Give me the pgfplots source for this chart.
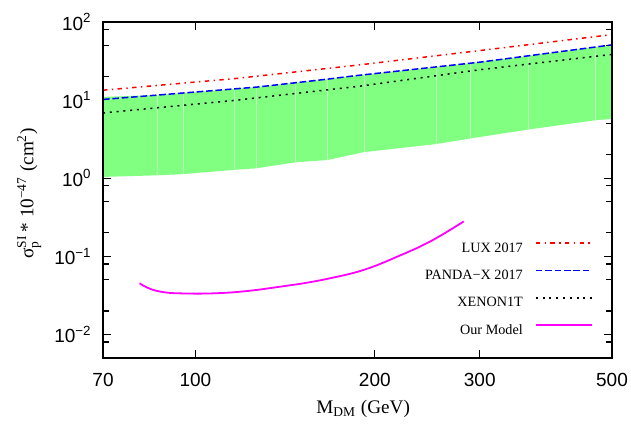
\documentclass[border=0pt]{standalone}
\usepackage{fontspec}
\setmainfont{Liberation Serif}
\setsansfont{Liberation Sans}
\usepackage{amsmath}
\usepackage{pgfplots}
\pgfplotsset{compat=1.18}
\definecolor{bandgreen}{HTML}{80FF80}
\definecolor{modelpink}{HTML}{FF00FF}

\begin{document}
\begin{tikzpicture}
\begin{axis}[
  xmode=log, ymode=log,
  scale only axis, width=254.5pt, height=168pt,
  xmin=70, xmax=500, ymin=0.005, ymax=100,
  xtick={70,100,200,300,500}, xticklabels={70,100,200,300,500},
  minor xtick={},
  ytick={0.01,0.1,1,10,100},
  yticklabels={10\textsuperscript{−2},10\textsuperscript{−1},10\textsuperscript{0},10\textsuperscript{1},10\textsuperscript{2}},
  minor ytick={0.008,0.02,0.05,0.08,0.2,0.5,0.8,2,5,8,20,50,80},
  tick align=inside, major tick length=4.2pt, minor tick length=2.8pt,
  tick style={black, line width=0.6pt},
  axis line style={line width=1pt},
  xticklabel style={font=\sffamily\fontsize{9.5}{11}\selectfont, anchor=base, inner sep=0pt, yshift=-14.3pt},
  yticklabel style={font=\sffamily\fontsize{9.5}{11}\selectfont, anchor=east, inner sep=0pt, xshift=-5.5pt},
  xlabel={M\textsubscript{DM} (GeV)},
  xlabel style={font=\fontsize{9.6}{11.5}\selectfont, at={(axis description cs:0.511,-0.164)}, anchor=base},
  ylabel={$\text{σ}_{\text{p}}^{\text{SI}}$\,* 10\textsuperscript{−47} (cm\textsuperscript{2})},
  ylabel style={font=\fontsize{9.6}{11.5}\selectfont, at={(axis description cs:-0.145,0.49)}, anchor=center},
  legend cell align=right, legend plot pos=right,
  legend style={draw=none, fill=none, at={(0.9627,0.346)}, anchor=north east,
    inner sep=0pt, row sep=7.2pt, column sep=6pt,
    font=\fontsize{7.1}{8.5}\selectfont,
    nodes={inner sep=0pt, text height=5pt, text depth=1.5pt}},
  legend image code/.code={\draw[#1] (0pt,2.8pt) -- (28pt,2.8pt);},
]
% allowed band
\addplot[fill=bandgreen, draw=none, forget plot] coordinates {
  (70,11.0) (86.2,11.6) (95.4,12.3) (116.2,13.9) (126.5,14.7) (147.1,16.7)
  (166.5,18.5) (191.8,21.1) (253.5,26.6) (289.3,29.7) (362.2,36.9) (469.6,47.9) (500,50)
  (500,5.75) (469.6,5.53) (362.2,4.21) (289.3,3.23) (253.5,2.74) (191.8,2.16)
  (166.5,1.71) (147.1,1.60) (126.5,1.34) (116.2,1.28) (95.4,1.13) (86.2,1.09) (70,1.04)
} -- cycle;
% faint seams inside the band
\addplot[white, line width=0.3pt, opacity=0.5, forget plot] coordinates {(86.2,1.09) (86.2,11.6)};
\addplot[white, line width=0.3pt, opacity=0.5, forget plot] coordinates {(95.4,1.13) (95.4,12.3)};
\addplot[white, line width=0.3pt, opacity=0.5, forget plot] coordinates {(116.2,1.28) (116.2,13.9)};
\addplot[white, line width=0.3pt, opacity=0.5, forget plot] coordinates {(126.5,1.34) (126.5,14.7)};
\addplot[white, line width=0.3pt, opacity=0.5, forget plot] coordinates {(147.1,1.60) (147.1,16.7)};
\addplot[white, line width=0.3pt, opacity=0.5, forget plot] coordinates {(166.5,1.71) (166.5,18.5)};
\addplot[white, line width=0.3pt, opacity=0.5, forget plot] coordinates {(191.8,2.16) (191.8,21.1)};
\addplot[white, line width=0.3pt, opacity=0.5, forget plot] coordinates {(253.5,2.74) (253.5,26.6)};
\addplot[white, line width=0.3pt, opacity=0.5, forget plot] coordinates {(289.3,3.23) (289.3,29.7)};
\addplot[white, line width=0.3pt, opacity=0.5, forget plot] coordinates {(362.2,4.21) (362.2,36.9)};
\addplot[white, line width=0.3pt, opacity=0.5, forget plot] coordinates {(469.6,5.53) (469.6,47.9)};

\addplot[red, line width=0.75pt, dash pattern=on 2.2pt off 2.2pt on 0.7pt off 2.2pt] coordinates {
  (70,13.4) (116,18.8) (189,28.3) (300,43.1) (500,69)};
\addlegendentry{LUX 2017}
\addplot[blue, line width=0.75pt, dash pattern=on 3.3pt off 1.4pt] coordinates {
  (70,10.2) (95,12.3) (127,14.7) (166,18.5) (185,20.5) (300,30.6) (500,51)};
\addlegendentry{PANDA−X 2017}
\addplot[black, line width=0.75pt, dash pattern=on 1pt off 2.4pt] coordinates {
  (70,6.85) (116,9.9) (189,15.1) (300,24.5) (500,38.5)};
\addlegendentry{XENON1T}
\addplot[modelpink, line width=0.9pt, smooth, tension=0.7] coordinates {
  (80.6,0.0452) (83.9,0.0385) (88.3,0.0349) (94.3,0.0336) (107,0.0336)
  (121.7,0.0359) (138.8,0.0409) (150,0.0445) (168.4,0.0525) (191.5,0.067)
  (217.7,0.0985) (248,0.156) (282,0.28)};
\addlegendentry{Our Model}
\end{axis}
\draw[line width=1pt] (current axis.south west) rectangle (current axis.north east);
\pgfresetboundingbox
\path ([shift={(-51.5pt,-33.5pt)}]current axis.south west) rectangle ([shift={(9.5pt,11pt)}]current axis.north east);
\end{tikzpicture}
\end{document}
